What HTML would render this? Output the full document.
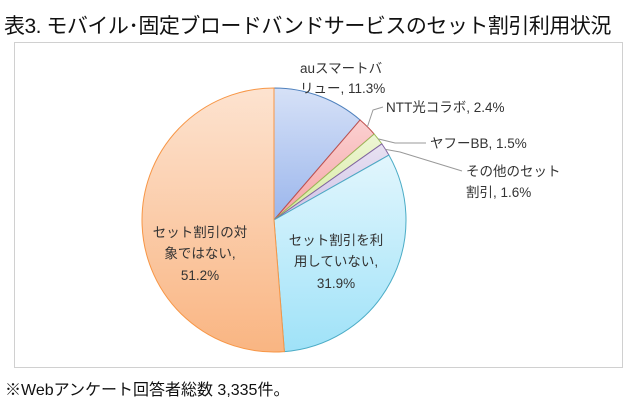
<!DOCTYPE html>
<html><head><meta charset="utf-8">
<style>
body{margin:0;width:640px;height:400px;background:#fff;overflow:hidden;font-family:"Liberation Sans","Noto Sans CJK JP",sans-serif;}
#title{position:absolute;left:4px;top:10px;font-size:21px;color:#111;white-space:nowrap;letter-spacing:-0.5px}
#frame{position:absolute;left:14px;top:42px;width:609px;height:326px;border:1px solid #d0d0d0;box-sizing:border-box}
#note{position:absolute;left:5px;top:376px;font-size:16px;color:#111;white-space:nowrap}
svg{position:absolute;left:0;top:0}
</style></head><body>
<div id="title">表3. モバイル･固定ブロードバンドサービスのセット割引利用状況</div>
<div id="frame"></div>
<svg width="640" height="400" id="chart">
<defs>
<linearGradient id="g0" x1="0" y1="0" x2="0" y2="1"><stop offset="0" stop-color="#d6e1f7"/><stop offset="1" stop-color="#9bb6ec"/></linearGradient>
<linearGradient id="g1" x1="0" y1="0" x2="0" y2="1"><stop offset="0" stop-color="#fbd0d0"/><stop offset="1" stop-color="#f4a4a6"/></linearGradient>
<linearGradient id="g2" x1="0" y1="0" x2="0" y2="1"><stop offset="0" stop-color="#eef6d6"/><stop offset="1" stop-color="#d6ea9c"/></linearGradient>
<linearGradient id="g3" x1="0" y1="0" x2="0" y2="1"><stop offset="0" stop-color="#e8e2f2"/><stop offset="1" stop-color="#cfc2e6"/></linearGradient>
<linearGradient id="g4" x1="0" y1="0" x2="0" y2="1"><stop offset="0" stop-color="#e2f6fd"/><stop offset="1" stop-color="#9fe2f8"/></linearGradient>
<linearGradient id="g5" x1="0" y1="0" x2="0" y2="1"><stop offset="0" stop-color="#fde3d0"/><stop offset="1" stop-color="#f9b582"/></linearGradient>
</defs>
<g id="slices"></g>
<g id="labels" font-size="13.5" fill="#333"></g>
</svg>
<div id="note">※Webアンケート回答者総数 3,335件。</div>
<script>
const categories=["auスマートバリュー","NTT光コラボ","ヤフーBB","その他のセット割引","セット割引を利用していない","セット割引の対象ではない"];
const values=[11.3,2.4,1.5,1.6,31.9,51.2];
const valueLabels=["11.3%","2.4%","1.5%","1.6%","31.9%","51.2%"];
const strokes=["#4f81bd","#c0504d","#9bbb59","#8064a2","#4bacc6","#f79646"];
const cx=274,cy=220,r=132;
const total=values.reduce((a,b)=>a+b,0);
const NS="http://www.w3.org/2000/svg";
const sg=document.getElementById('slices'),lg=document.getElementById('labels');
function pt(a,rr){return [cx+rr*Math.sin(a),cy-rr*Math.cos(a)];}
let acc=0;const mids=[];
values.forEach((v,i)=>{
  const a0=acc/total*2*Math.PI;acc+=v;const a1=acc/total*2*Math.PI;
  mids.push((a0+a1)/2);
  const p0=pt(a0,r),p1=pt(a1,r);
  const p=document.createElementNS(NS,'path');
  p.setAttribute('d',`M${cx},${cy}L${p0[0]},${p0[1]}A${r},${r} 0 ${a1-a0>Math.PI?1:0} 1 ${p1[0]},${p1[1]}Z`);
  p.setAttribute('fill',`url(#g${i})`);p.setAttribute('stroke',strokes[i]);p.setAttribute('stroke-width','1');
  
  
  sg.appendChild(p);
});
// label layout: [lines, x, y, anchor, leader target]
const layouts=[
 {lines:["auスマートバ","リュー, "+valueLabels[0]],x:300,y:[73,93],a:"start"},
 {lines:["NTT光コラボ, "+valueLabels[1]],x:386,y:[112],a:"start",lead:[[383,107],[373,110]]},
 {lines:["ヤフーBB, "+valueLabels[2]],x:430,y:[148],a:"start",lead:[[426,143],[395,143]]},
 {lines:["その他のセット","割引, "+valueLabels[3]],x:466,y:[176,197],a:"start",lead:[[462,171],[400,152]]},
 {lines:["セット割引を利","用していない,",valueLabels[4]],x:336,y:[245,266,288],a:"middle"},
 {lines:["セット割引の対","象ではない,",valueLabels[5]],x:200,y:[237,258,280],a:"middle"}
];
layouts.forEach((L,i)=>{
  if(L.lead){
    const e=pt(mids[i],r);
    const pl=document.createElementNS(NS,'polyline');
    pl.setAttribute('points',`${L.lead[0][0]},${L.lead[0][1]} ${L.lead[1][0]},${L.lead[1][1]} ${e[0]},${e[1]}`);
    pl.setAttribute('fill','none');pl.setAttribute('stroke','#999');pl.setAttribute('stroke-width','1');
    
    
    lg.appendChild(pl);
  }
  L.lines.forEach((s,j)=>{
    const t=document.createElementNS(NS,'text');
    t.setAttribute('x',L.x);t.setAttribute('y',L.y[j]);t.setAttribute('text-anchor',L.a);
    t.textContent=s;
    
    
    lg.appendChild(t);
  });
});
</script>
</body></html>
